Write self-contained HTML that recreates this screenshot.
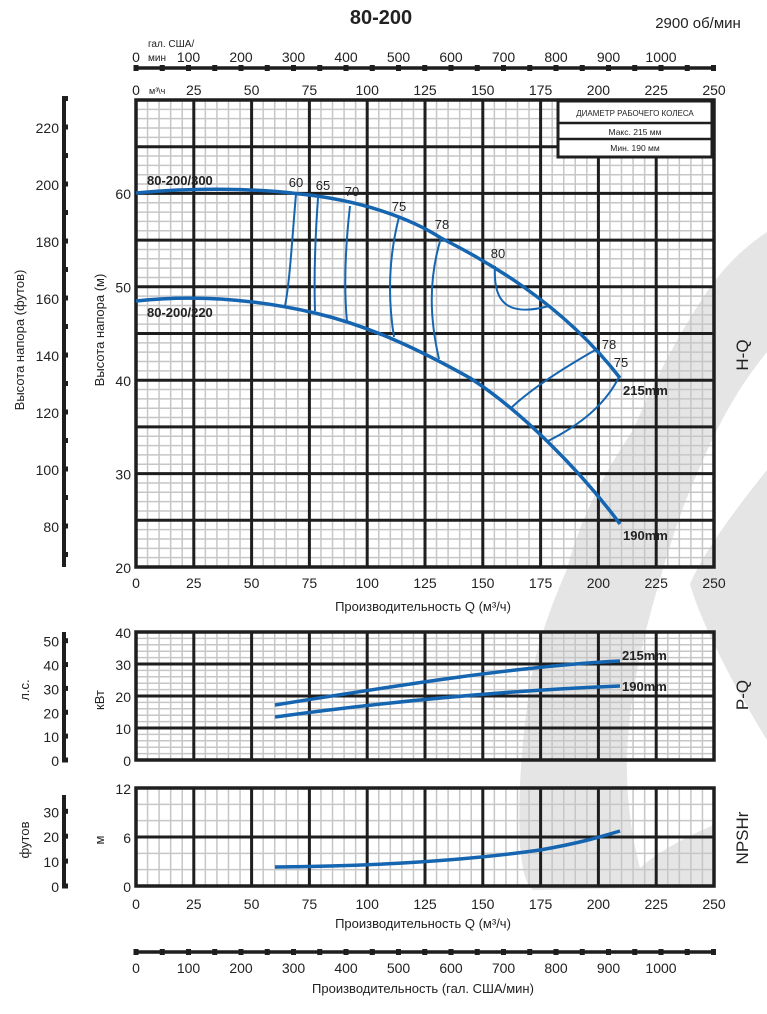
<!DOCTYPE html>
<html><head><meta charset="utf-8"><style>
html,body{margin:0;padding:0;background:#fff}
svg{display:block}
text{font-family:"Liberation Sans","DejaVu Sans",sans-serif;fill:#222}
</style></head><body>
<svg id="s" width="767" height="1014" viewBox="0 0 767 1014" xmlns="http://www.w3.org/2000/svg">
<path d="M767,232 C740,250 725,268 713,283 C680,330 655,380 633,430 C600,480 580,520 567,569 C545,620 532,660 527,707 C520,760 518,810 520,845 C522,870 526,885 533,890 L640,888 C642,880 641,875 640,868 C630,830 626,790 627,753 C630,700 638,660 650,615 C665,560 680,510 700,467 C720,420 740,385 767,352 Z" fill="#e5e5e5"/>
<path d="M767,470 C735,510 705,550 690,584 C700,620 730,680 767,740 Z" fill="#e5e5e5"/>
<path d="M640,868 C660,850 690,835 714,825 L714,888 L640,888 Z" fill="#e5e5e5"/>
<g id="g"></g>
</svg>
<script>
var g=document.getElementById('g'),h='';
function L(x1,y1,x2,y2,c,w){h+='<line x1="'+x1+'" y1="'+y1+'" x2="'+x2+'" y2="'+y2+'" stroke="'+c+'" stroke-width="'+w+'"/>';}
function T(x,y,t,o){o=o||{};h+='<text x="'+x+'" y="'+y+'" font-size="'+(o.s||14)+'" text-anchor="'+(o.a||'middle')+'"'+(o.b?' font-weight="bold"':'')+(o.r?' transform="rotate(-90 '+x+' '+y+')"':'')+'>'+t+'</text>';}
var X0=136,X1=714,kx=(X1-X0)/250;function X(q){return X0+q*kx;}
var BL='#1e1e1e',GR='#c6c6c6';
function chart(top,bot,vmin,vmax,minStep,majStep){
 var ky=(bot-top)/(vmax-vmin);
 for(var q=5;q<250;q+=5)if(q%25)L(X(q),top,X(q),bot,GR,1.5);
 for(var v=vmin+minStep;v<vmax;v+=minStep)if((v-vmin)%majStep)L(X0,bot-(v-vmin)*ky,X1,bot-(v-vmin)*ky,GR,1.5);
 for(var q=25;q<250;q+=25)L(X(q),top,X(q),bot,BL,3);
 for(var v=vmin+majStep;v<vmax;v+=majStep)L(X0,bot-(v-vmin)*ky,X1,bot-(v-vmin)*ky,BL,3);
 h+='<rect x="'+X0+'" y="'+top+'" width="'+(X1-X0)+'" height="'+(bot-top)+'" fill="none" stroke="'+BL+'" stroke-width="3.5"/>';
}
chart(100,567,20,70,1,5);
chart(632,760,0,40,2,10);
chart(788,886,0,12,2,6);
[20,30,40,50,60].forEach(function(v){T(131,567-(v-20)*9.35+6,v,{a:'end',s:14});});
[0,10,20,30,40].forEach(function(v){T(131,760-v*3.2+6,v,{a:'end',s:14});});
[0,6,12].forEach(function(v){T(131,886-v*8.17+6,v,{a:'end',s:14});});
for(var q=0;q<=250;q+=25){T(X(q),588,q);T(X(q),909,q);T(X(q),95,q);}
T(149,94,'м³\\ч',{s:9,a:'start'});
T(423,611,'Производительность Q (м³/ч)',{s:13});
T(423,928,'Производительность Q (м³/ч)',{s:13});
function gal(y,ly){L(136,y,714,y,BL,3.5);for(var n=0;n<=22;n++){var x=136+n*26.25;h+='<rect x="'+(x-2.5)+'" y="'+(y-3)+'" width="5" height="6" fill="'+BL+'"/>';}
 for(var n=0;n<=10;n++){T(136+n*52.5,ly,n*100,{s:14});}}
gal(68,62);gal(952,973);
T(148,47,'гал. США/',{s:10,a:'start'});T(148,61,'мин',{s:10,a:'start'});
T(423,993,'Производительность (гал. США/мин)',{s:13});
function lax(top,bot,f,ticks,labels){L(64,top,64,bot,BL,4);ticks.forEach(function(t){var y=f(t);h+='<rect x="62" y="'+(y-2.5)+'" width="6" height="5" fill="'+BL+'"/>';});labels.forEach(function(t){T(59,f(t)+6,t,{a:'end',s:14});});}
var ft=function(v){return 567-(v*0.3048-20)*9.35;};
var t1=[];for(var v=70;v<=230;v+=10)t1.push(v);
lax(100,567,ft,t1,[80,100,120,140,160,180,200,220]);
var hp=function(v){return 760-v*0.7457*3.2;};
lax(632,760,hp,[0,10,20,30,40,50],[0,10,20,30,40,50]);
var nf=function(v){return 886-v*0.3048*8.17;};
lax(795,886,nf,[0,10,20,30],[0,10,20,30]);
T(24,340,'Высота напора (футов)',{r:1,s:13});
T(104,330,'Высота напора (м)',{r:1,s:13});
T(29,690,'л.с.',{r:1,s:13});T(104,700,'кВт',{r:1,s:13});
T(29,840,'футов',{r:1,s:13});T(104,840,'м',{r:1,s:13});
T(748,355,'H-Q',{r:1,s:17});T(748,695,'P-Q',{r:1,s:17});T(748,838,'NPSHr',{r:1,s:17});
T(381,24,'80-200',{b:1,s:20});T(698,28,'2900 об/мин',{s:15});
h+='<rect x="558" y="101" width="154" height="56" fill="#fff" stroke="'+BL+'" stroke-width="3"/>';
L(558,123,712,123,BL,2.5);L(558,139,712,139,BL,2.5);
T(635,116,'ДИАМЕТР РАБОЧЕГО КОЛЕСА',{s:8});T(635,135,'Макс. 215 мм',{s:8.5});T(635,151,'Мин. 190 мм',{s:8.5});
var B='#1565b0';
function P(d,w){h+='<path d="'+d+'" fill="none" stroke="'+B+'" stroke-width="'+w+'" stroke-linecap="butt"/>';}
P('M136,193 C200,187 260,189 300,194 C360,200 410,218 441,238 C480,258 560,300 620,378',3.5);
P('M136,301 C190,295 250,298 315,313 C370,326 420,350 470,378 C520,410 580,470 620,524',3.5);
P('M296,194 C292,240 290,280 285,306',2);
P('M318,198 C315,240 314,280 315,311',2);
P('M350,206 C345,250 344,290 347,322',2);
P('M399,217 C388,260 388,300 394,337',2);
P('M441,238 C428,280 430,320 439,359',2);
P('M495,266 C493,300 505,318 549,306',2);
P('M597,349 C560,370 530,390 511,408',2);
P('M619,377 C605,405 580,425 548,441',2);
T(296,187,'60',{s:13});T(323,190,'65',{s:13});T(352,196,'70',{s:13});T(399,211,'75',{s:13});T(442,229,'78',{s:13});T(498,258,'80',{s:13});T(609,349,'78',{s:13});T(621,367,'75',{s:13});
T(147,185,'80-200/300',{a:'start',b:1,s:13});T(147,317,'80-200/220',{a:'start',b:1,s:13});
T(623,395,'215mm',{a:'start',b:1,s:13});T(623,540,'190mm',{a:'start',b:1,s:13});
P('M275,705 C400,685 520,666 620,661',3.5);
P('M275,717 C400,700 520,690 620,686',3.5);
T(622,660,'215mm',{a:'start',b:1,s:13});T(622,691,'190mm',{a:'start',b:1,s:13});
P('M275,867 C380,866 470,860 540,850 C580,843 600,837 620,831',3.5);
g.innerHTML=h;
</script>
</body></html>
